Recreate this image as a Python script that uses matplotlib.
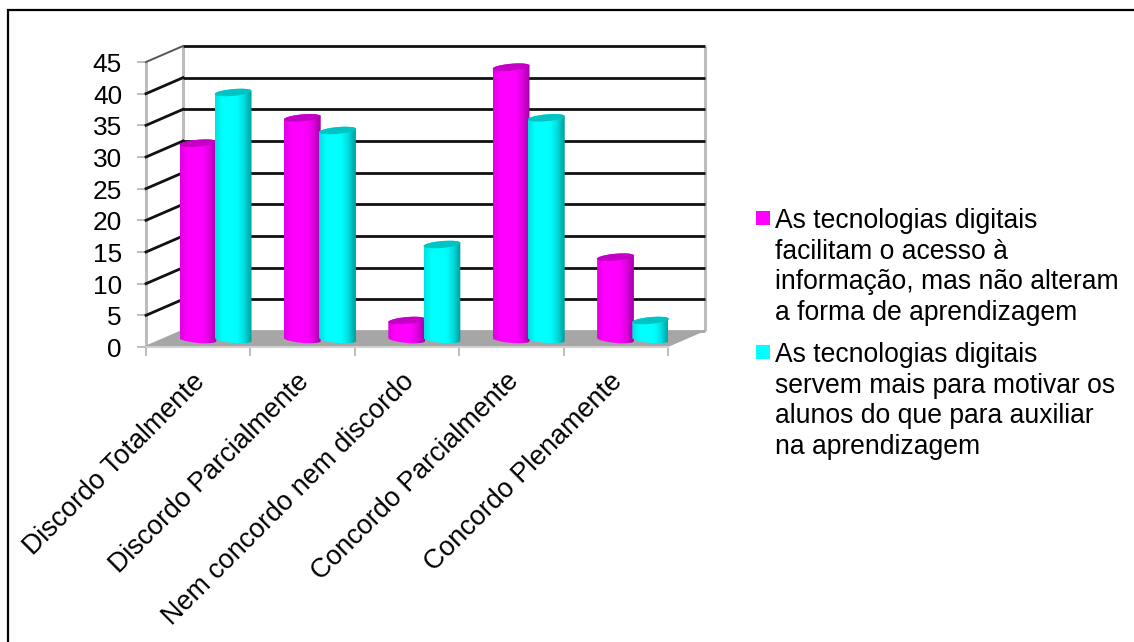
import numpy as np
import matplotlib
matplotlib.use("Agg")
import matplotlib.pyplot as plt
from matplotlib.colors import LinearSegmentedColormap
from matplotlib.patches import Polygon, Rectangle

plt.rcParams["font.family"] = ["Liberation Sans", "DejaVu Sans"]

categories = ["Discordo Totalmente", "Discordo Parcialmente", "Nem concordo nem discordo",
              "Concordo Parcialmente", "Concordo Plenamente"]
series_facilitam = [31, 35, 3, 43, 13]
series_motivar = [39, 33, 15, 35, 3]
yticks = list(range(0, 50, 5))
legend_labels = ["As tecnologias digitais\nfacilitam o acesso à\ninformação, mas não alteram\na forma de aprendizagem",
                 "As tecnologias digitais\nservem mais para motivar os\nalunos do que para auxiliar\nna aprendizagem"]

W, H = 1134, 642
fig = plt.figure(figsize=(W / 100, H / 100), dpi=100)

# Frame lines along the top and left of the chart, in figure pixels
frame = fig.add_axes([0, 0, 1, 1])
frame.set_xlim(0, W)
frame.set_ylim(H, 0)
frame.axis("off")
frame.plot([7.5, 7.5, W], [H, 9.5, 9.5], color="black", lw=1.6, solid_joinstyle="miter")

# Front plane of the 3D box: x in category units, y in data units
LEFT, RIGHT, TOP, BOTTOM = 146, 668, 62, 347
ax = fig.add_axes([LEFT / W, 1 - BOTTOM / H, (RIGHT - LEFT) / W, (BOTTOM - TOP) / H])
ax.set_xlim(0, len(categories))
ax.set_ylim(0, 45)
ax.axis("off")

px_x = len(categories) / (RIGHT - LEFT)   # category units per pixel
px_y = 45 / (BOTTOM - TOP)                # value units per pixel
DX, DY = 37 * px_x, 16 * px_y             # depth of the box

n = len(categories)
# Floor
ax.add_patch(Polygon([(0, 0), (n, 0), (n + DX, DY), (DX, DY)], fc="#A6A6A6", ec="none", clip_on=False, zorder=1))
ax.plot([0, n], [0, 0], color="#D0D0D0", lw=1.5, clip_on=False, zorder=1.5)
# Gridlines along the back wall and the left wall
for v in yticks:
    grid_color = "#111111" if v else "#A6A6A6"
    ax.plot([DX, n + DX], [v + DY, v + DY], color=grid_color, lw=2.0, clip_on=False, zorder=1.2, solid_capstyle="butt")
    ax.plot([0, DX], [v, v + DY], color=grid_color if v != 45 else "#555555", lw=2.0 if v != 45 else 1.4,
            clip_on=False, zorder=1.2)
# Wall edges
for x0 in (0, DX, n + DX):
    off = DY if x0 else 0
    ax.plot([x0, x0], [off, 45 + off], color="#BDBDBD", lw=2.2, clip_on=False, zorder=1.1, solid_capstyle="butt")
# Tick marks
for v in yticks:
    ax.plot([-8 * px_x, 0], [v, v], color="#BDBDBD", lw=1.4, clip_on=False, zorder=1.1)
    ax.text(-24 * px_x, v - 0.45, str(v), ha="right", va="center", fontsize=18.9, color="black", clip_on=False)
for i in range(n + 1):
    ax.plot([i, i], [0, -8 * px_y], color="#BDBDBD", lw=1.4, clip_on=False, zorder=1.1)

# Category labels, rotated and ending under each category centre
for i, label in enumerate(categories):
    ax.annotate(label, xy=(i + 0.5, 0), xytext=(-4.5, -15.5), textcoords="offset points",
                rotation=45, rotation_mode="anchor", ha="right", va="top",
                fontsize=19.4, color="black", annotation_clip=False)


def cylinder(x0, value, colors, top_color, z):
    """Draw a shaded cylinder with a tilted elliptical cap from a base at depth centre."""
    w = 36.8 * px_x
    base = 7.5 * px_y
    a = w / 2
    b = 3.4 * px_y
    tilt = 1.6 * px_y
    cx = x0 + a
    t = np.linspace(0, np.pi, 60)
    top_y = base + value
    # Outline: bottom arc left to right, then the cap's back arc right to left
    xb = cx - a * np.cos(t)
    yb = base - b * np.sin(t) + tilt * np.cos(t)
    xt = cx + a * np.cos(t)
    yt = top_y + b * np.sin(t) + tilt * np.cos(t)
    body = Polygon(np.column_stack([np.r_[xb, xt], np.r_[yb, yt]]), fc="none", ec="none", transform=ax.transData)
    ax.add_patch(body)
    cmap = LinearSegmentedColormap.from_list("shade", colors)
    grad = np.linspace(0, 1, 128).reshape(1, -1)
    im = ax.imshow(grad, cmap=cmap, extent=[x0, x0 + w, base - b - tilt, top_y + b + tilt],
                   aspect="auto", zorder=z, clip_on=True)
    im.set_clip_path(body)
    th = np.linspace(0, 2 * np.pi, 120)
    cap = Polygon(np.column_stack([cx + a * np.cos(th), top_y + b * np.sin(th) + tilt * np.cos(th)]),
                  fc=top_color, ec="none", zorder=z + 0.1, clip_on=False)
    ax.add_patch(cap)


magenta_shades = ["#E000E0", "#FF00FF", "#FF00FF", "#FF00FF", "#E000E0", "#A000A0"]
cyan_shades = ["#00E0E0", "#00FFFF", "#00FFFF", "#00FFFF", "#00DCDC", "#009A9A"]
for i in range(n):
    base_x = i + 33.5 * px_x
    cylinder(base_x, series_facilitam[i], magenta_shades, "#C400C4", 3 + i)
    cylinder(base_x + 35.2 * px_x, series_motivar[i], cyan_shades, "#00C4C4", 3.5 + i)
ax.set_xlim(0, n)
ax.set_ylim(0, 45)

# Legend drawn in figure pixels
frame.set_zorder(0)
ax.set_zorder(1)
legend_entries = [(211, magenta_shades[1]), (345, cyan_shades[1])]
for (y, color), text in zip(legend_entries, legend_labels):
    frame.add_patch(Rectangle((756, y), 14, 14, fc=color, ec="none"))
    frame.text(775, y - 3, text, ha="left", va="top", fontsize=19.1, color="black", linespacing=1.235)

fig.savefig("out.png", dpi=100)
